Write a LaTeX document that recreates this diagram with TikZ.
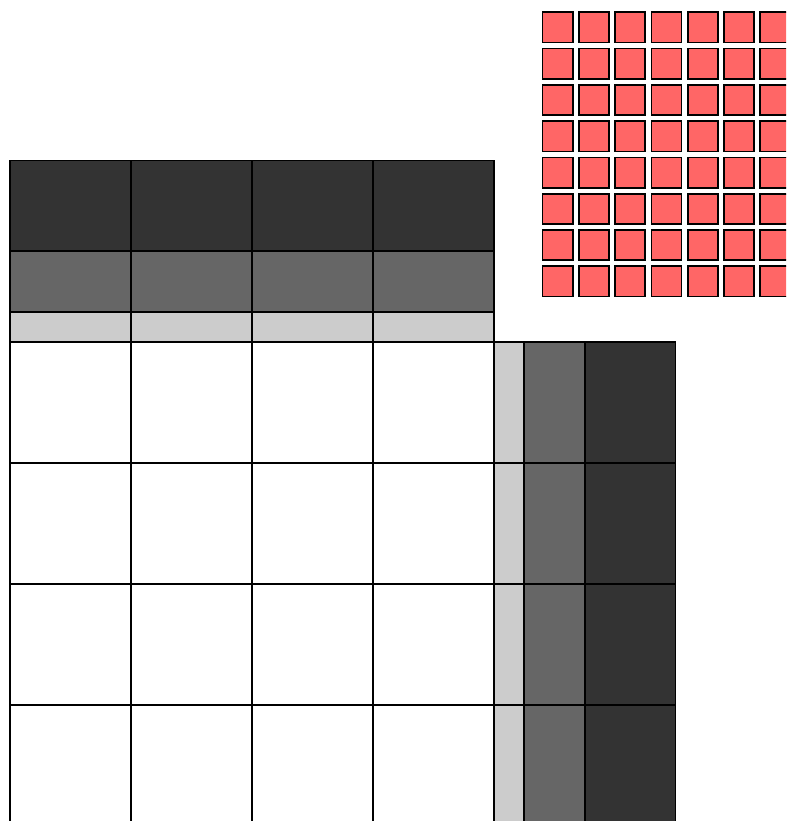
\documentclass[tikz,border=0pt]{standalone}
\usepackage{xcolor}
\usepackage{tikz}
\definecolor{tilered}{RGB}{255,102,102}

\begin{document}
\begin{tikzpicture}[x=1cm,y=1cm,
  cell/.style={draw=black,line width=0.4pt,fill=white},
  dark/.style={cell,fill=black!80},
  mid/.style={cell,fill=black!60},
  light/.style={cell,fill=black!20},
  tile/.style={draw=black,line width=0.4pt,fill=tilered}]
 \clip (-0.083,-3.959) rectangle (6.413,2.826);
 % white grid and the bands round it
 \foreach \i in {0,...,3}{
   \foreach \j in {1,...,4}
     \draw[cell] (\i,1-\j) rectangle (\i+1,-\j);
   \draw[light] (\i,0) rectangle (\i+1,0.25);
   \draw[mid] (\i,0.25) rectangle (\i+1,0.75);
   \draw[dark] (\i,0.75) rectangle (\i+1,1.5);
 }
 \foreach \j in {1,...,4}{
   \draw[light] (4,1-\j) rectangle (4.25,-\j);
   \draw[mid] (4.25,1-\j) rectangle (4.75,-\j);
   \draw[dark] (4.75,1-\j) rectangle (5.5,-\j);
 }
 % red tiles
 \foreach \c in {0,...,6}
   \foreach \r in {0,...,7}
     \draw[tile] (4.4+0.3*\c,2.725-0.3*\r) rectangle ++(0.25,-0.25);
\end{tikzpicture}
\end{document}
